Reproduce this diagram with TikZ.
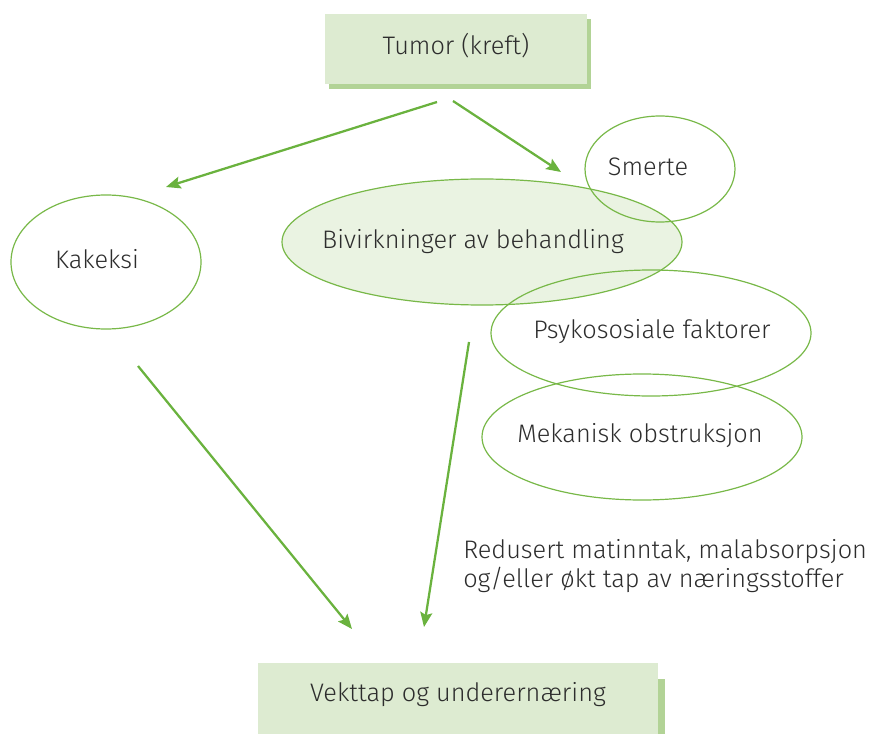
\documentclass[tikz,border=0pt]{standalone}
\usepackage{fontspec}
\setmainfont{Fira Sans}[UprightFont=* Light]
\usetikzlibrary{arrows.meta,shapes.geometric,calc}
\definecolor{boxfill}{RGB}{221,235,209}
\definecolor{boxshadow}{RGB}{178,211,150}
\definecolor{ellline}{RGB}{120,184,72}
\definecolor{arrgreen}{RGB}{106,178,62}
\definecolor{bivfill}{RGB}{234,243,226}
\definecolor{txt}{RGB}{45,45,45}
\begin{document}
\begin{tikzpicture}[x=0.75pt,y=-0.75pt,
  every node/.style={text=txt,font=\fontsize{19}{22}\selectfont},
  ell/.style={ellipse,draw=ellline,line width=0.9pt,inner sep=0pt},
  greenbox/.style={fill=boxfill,draw=none,inner sep=0pt},
  shadowbox/.style={fill=boxshadow,draw=none,inner sep=0pt},
  arr/.style={draw=arrgreen,line width=1.7pt,-{Stealth[length=11pt,width=9pt,inset=2pt]}},
  lbl/.style={inner sep=0pt,anchor=center}]
\useasboundingbox (0,0) rectangle (874,734);
% Top box
\node[shadowbox,minimum width=262*0.75pt,minimum height=70*0.75pt] (tumorshadow) at (460,54) {};
\node[greenbox,minimum width=262*0.75pt,minimum height=70*0.75pt] (tumor) at (456,49) {};
\node[lbl] (tumortxt) at (456,46) {Tumor (kreft)};
% Bottom box
\node[shadowbox,minimum width=400*0.75pt,minimum height=72*0.75pt] (vektshadow) at (465,715) {};
\node[greenbox,minimum width=400*0.75pt,minimum height=72*0.75pt] (vekt) at (458,699) {};
\node[lbl] (vekttxt) at (458,695) {Vekttap og underernæring};
% Ellipses
\node[ell,fill=bivfill,minimum width=400*0.75pt,minimum height=126*0.75pt] (biv) at (482,242) {};
\node[lbl] (bivtxt) at (473,242) {Bivirkninger av behandling};
\node[ell,minimum width=190*0.75pt,minimum height=134*0.75pt] (kak) at (106,262) {};
\node[lbl] (kaktxt) at (97,259) {Kakeksi};
\node[ell,minimum width=150*0.75pt,minimum height=106*0.75pt] (smerte) at (660,169) {};
\node[lbl] (smertetxt) at (648,167) {Smerte};
\node[ell,minimum width=320*0.75pt,minimum height=126*0.75pt] (psyk) at (651,333) {};
\node[lbl] (psyktxt) at (652,332) {Psykososiale faktorer};
\node[ell,minimum width=320*0.75pt,minimum height=126*0.75pt] (mek) at (642,437) {};
\node[lbl] (mektxt) at (640,436) {Mekanisk obstruksjon};
% Caption
\node[inner sep=0pt,anchor=north west,align=left] (cap) at (463,539) {Redusert matinntak, malabsorpsjon\\og/eller økt tap av næringsstoffer};
% Arrow coordinates
\coordinate (a1s) at (437,102);
\coordinate (a1e) at (166,187);
\coordinate (a2s) at (453,101);
\coordinate (a2e) at (561,172);
\coordinate (a3s) at (138,366);
\coordinate (a3e) at (352,629);
\coordinate (a4s) at (469,342);
\coordinate (a4e) at (424,627);
\draw[arr] (a1s) -- (a1e);
\draw[arr] (a2s) -- (a2e);
\draw[arr] (a3s) -- (a3e);
\draw[arr] (a4s) -- (a4e);
\end{tikzpicture}
\end{document}
